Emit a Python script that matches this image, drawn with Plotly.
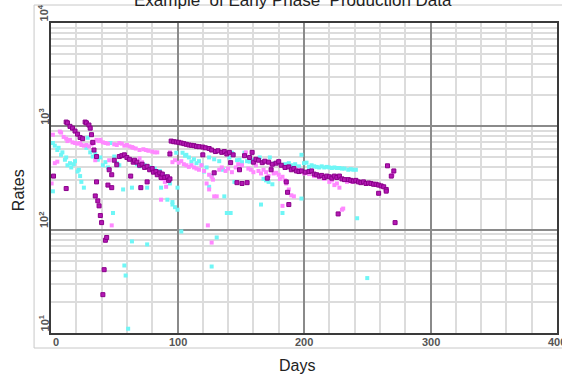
import plotly.graph_objects as go

# Early-phase production rates: (day, rate) pairs for each stream
stream_a = [
    (2, 330), (12, 250), (12, 1100), (13, 1080), (15, 1000), (17, 960), (19, 900), (21, 840),
    (23, 780), (25, 760), (27, 1100), (28, 1080), (30, 1030), (31, 960), (32, 830), (33, 700),
    (34, 590), (35, 212), (36, 510), (36, 290), (37, 190), (38, 170), (39, 137), (40, 117),
    (41, 23.5), (42, 41), (43, 79), (44, 84), (45, 270), (46, 380), (48, 340), (48, 255),
    (50, 470), (52, 425), (54, 510), (56, 520), (58, 530), (60, 500), (62, 480), (63, 330),
    (65, 450), (66, 470), (68, 450), (70, 420), (71, 255), (72, 430), (74, 400), (76, 290),
    (76, 410), (78, 380), (80, 390), (81, 360), (83, 365), (84, 340), (86, 355), (87, 320),
    (88, 345), (90, 320), (92, 325), (93, 300), (94, 310), (94, 540), (95, 720), (97, 710),
    (99, 705), (101, 700), (103, 690), (105, 680), (107, 670), (109, 660), (111, 655),
    (113, 650), (115, 640), (117, 635), (120, 630), (120, 530), (122, 620), (125, 610),
    (127, 590), (129, 355), (130, 570), (132, 580), (135, 560), (137, 570), (139, 540),
    (141, 560), (142, 445), (144, 530), (147, 285), (149, 380), (151, 280), (153, 520),
    (155, 285), (157, 500), (159, 560), (160, 450), (162, 480), (164, 470), (167, 445),
    (169, 460), (171, 315), (172, 450), (174, 380), (175, 430), (178, 440), (180, 455),
    (182, 420), (185, 400), (186, 290), (187, 230), (188, 175), (188, 405), (190, 380),
    (192, 390), (194, 370), (196, 365), (198, 370), (201, 360), (204, 365), (206, 370),
    (208, 345), (210, 340), (212, 330), (214, 335), (216, 320), (218, 330), (220, 325),
    (222, 315), (224, 330), (226, 320), (227, 142), (228, 330), (230, 310), (232, 305),
    (235, 305), (237, 300), (239, 295), (241, 300), (243, 290), (245, 285), (247, 290),
    (249, 280), (251, 283), (253, 280), (255, 275), (257, 275), (259, 270), (259, 225),
    (261, 265), (263, 260), (265, 245), (265, 236), (266, 415), (269, 330), (271, 370),
    (272, 117),
]

stream_b = [
    (0.5, 280), (1.5, 830), (3, 440), (5, 455), (7, 890), (8, 870), (10, 790), (12, 760),
    (13, 720), (15, 740), (17, 700), (19, 690), (21, 680), (23, 690), (24, 660), (26, 650),
    (28, 660), (30, 640), (32, 670), (34, 690), (35, 470), (36, 740), (38, 720), (39, 740),
    (41, 700), (43, 690), (45, 680), (46, 470), (48, 110), (50, 670), (52, 660), (54, 690),
    (56, 680), (58, 650), (60, 660), (62, 640), (64, 630), (65, 620), (67, 610), (70, 590),
    (70, 490), (72, 450), (73, 600), (75, 590), (77, 580), (80, 570), (82, 560), (84, 560),
    (86, 340), (87, 195), (88, 310), (90, 290), (91, 260), (94, 560), (96, 450), (98, 470),
    (101, 445), (103, 460), (105, 430), (107, 420), (109, 405), (111, 420), (113, 400),
    (115, 390), (117, 380), (119, 420), (121, 370), (123, 280), (124, 110), (125, 340),
    (125, 245), (127, 325), (127, 75), (128, 305), (129, 210), (131, 210), (133, 380),
    (135, 400), (138, 370), (140, 390), (143, 360), (146, 400), (148, 430), (151, 420),
    (154, 560), (156, 390), (158, 380), (160, 360), (162, 420), (164, 370), (166, 350),
    (168, 380), (170, 360), (172, 330), (174, 400), (176, 350), (178, 355), (180, 340),
    (181, 310), (183, 325), (183, 170), (185, 300), (186, 280), (188, 245), (190, 215),
    (192, 210), (196, 380), (200, 350), (204, 345), (208, 330), (212, 320), (216, 310),
    (220, 290), (222, 300), (224, 270), (226, 280), (228, 255), (230, 156), (231, 160),
    (234, 290), (238, 290), (270, 340),
]

stream_c = [
    (1.5, 690), (1.5, 235), (3, 650), (5, 590), (6, 620), (8, 530), (9, 560), (11, 475),
    (12, 500), (13, 420), (15, 440), (16, 400), (18, 430), (19, 460), (21, 365), (22, 380),
    (23, 330), (24, 290), (26, 255), (28, 620), (29, 775), (31, 560), (33, 510), (35, 540),
    (37, 475), (39, 500), (41, 420), (43, 450), (45, 400), (47, 690), (49, 145), (50, 510),
    (52, 440), (54, 420), (57, 245), (58, 45), (59, 36), (61, 11), (62, 480), (64, 255),
    (64, 77), (66, 450), (68, 430), (70, 410), (72, 440), (74, 420), (76, 255), (76, 72),
    (78, 400), (80, 380), (82, 390), (84, 360), (86, 370), (87, 255), (88, 340), (90, 330),
    (92, 195), (94, 280), (96, 185), (96, 175), (98, 165), (99, 555), (100, 255), (100, 156),
    (103, 96), (104, 555), (106, 520), (107, 530), (109, 500), (111, 455), (113, 480),
    (115, 440), (117, 460), (119, 420), (121, 365), (123, 400), (125, 500), (125, 260),
    (127, 330), (127, 44), (129, 480), (131, 84), (133, 460), (136, 380), (137, 210),
    (139, 145), (141, 500), (142, 145), (143, 555), (145, 290), (147, 470), (149, 475),
    (151, 450), (153, 555), (155, 460), (157, 455), (160, 470), (162, 475), (165, 500),
    (166, 175), (168, 310), (170, 300), (172, 290), (173, 500), (175, 275), (177, 440),
    (180, 445), (183, 145), (185, 430), (188, 440), (190, 420), (193, 430), (196, 410),
    (198, 530), (198, 200), (200, 440), (202, 445), (204, 405), (206, 420), (208, 410),
    (210, 405), (212, 400), (214, 410), (216, 400), (218, 405), (220, 400), (222, 395),
    (224, 400), (226, 395), (228, 395), (230, 390), (232, 390), (235, 380), (237, 385),
    (239, 380), (241, 380), (242, 129), (250, 34),
]

x_ticks = [0, 100, 200, 300, 400]
x_tick_text = ["0", "100", "200", "300", "400"]
y_decades = [1, 2, 3, 4]

FONT = "Arial, Liberation Sans, sans-serif"

fig = go.Figure()

series = [
    (stream_c, "#6ff6f6", None),
    (stream_b, "#ff88ff", None),
    (stream_a, "#b418b4", "#8a008a"),
]
for pts, color, edge in series:
    days = [p[0] for p in pts]
    rates = [p[1] for p in pts]
    marker = dict(symbol="square", size=4, color=color)
    if edge:
        marker["line"] = dict(color=edge, width=1)
    else:
        marker["line"] = dict(width=0)
    fig.add_trace(go.Scatter(x=days, y=rates, mode="markers", marker=marker,
                             hoverinfo="x+y", showlegend=False))

fig.update_layout(
    width=562, height=376,
    margin=dict(l=51, r=3, t=23, b=43),
    paper_bgcolor="white", plot_bgcolor="white",
    xaxis=dict(
        range=[0, 400], dtick=100, tick0=0, showticklabels=False, ticks="",
        showgrid=True, gridcolor="#8a8a8a", gridwidth=2,
        minor=dict(dtick=20, tick0=0, showgrid=True, gridcolor="#dcdcdc", gridwidth=1.5),
        showline=True, mirror=True, linecolor="#3a3a3a", linewidth=2, zeroline=False,
    ),
    yaxis=dict(
        type="log", range=[1, 4], dtick=1, showticklabels=False, ticks="",
        showgrid=True, gridcolor="#8a8a8a", gridwidth=2,
        minor=dict(dtick="D1", showgrid=True, gridcolor="#dcdcdc", gridwidth=1.5),
        showline=True, mirror=True, linecolor="#3a3a3a", linewidth=2, zeroline=False,
    ),
)

annotations = []
# x tick labels
for v, t in zip(x_ticks, x_tick_text):
    annotations.append(dict(
        x=v, y=-0.03, xref="x", yref="paper", text="<b>%s</b>" % t, showarrow=False,
        xanchor="left" if v == 0 else "center", yanchor="middle",
        font=dict(family=FONT, size=11, color="#555555"),
    ))
# y tick labels (rotated powers of ten)
for d in y_decades:
    annotations.append(dict(
        x=-0.014, y=d, xref="paper", yref="y",
        text="<b>10<sup>%d</sup></b>" % d, showarrow=False, textangle=-90,
        xanchor="center", yanchor="bottom",
        font=dict(family=FONT, size=11, color="#555555"),
    ))
# titles
annotations.append(dict(
    x=0.478, y=1.074, xref="paper", yref="paper", showarrow=False,
    text="Example  of Early Phase  Production Data", xanchor="center", yanchor="middle",
    font=dict(family=FONT, size=17, color="#222222"),
))
annotations.append(dict(
    x=(298 - 51) / 508, y=(333 - 365) / 310, xref="paper", yref="paper", showarrow=False,
    text="Days", xanchor="center", yanchor="middle",
    font=dict(family=FONT, size=16, color="#222222"),
))
annotations.append(dict(
    x=(18 - 51) / 508, y=(333 - 190) / 310, xref="paper", yref="paper", showarrow=False,
    text="Rates", textangle=-90, xanchor="center", yanchor="middle",
    font=dict(family=FONT, size=16, color="#222222"),
))
fig.update_layout(annotations=annotations)

# light frame around the chart panel
fig.add_shape(type="rect", xref="paper", yref="paper",
              x0=(34 - 51) / 508, x1=1.05, y0=(333 - 348) / 310, y1=(333 - 5) / 310,
              line=dict(color="#c8c8c8", width=1), layer="below")

fig.write_html("out.html")
